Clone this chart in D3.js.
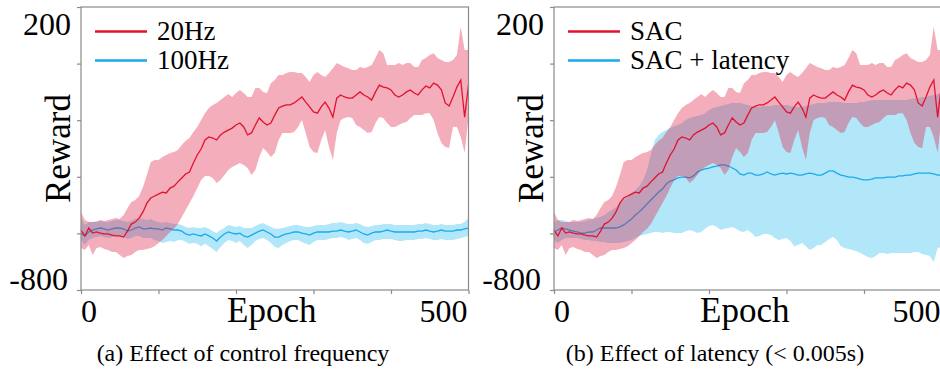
<!DOCTYPE html>
<html>
<head>
<meta charset="utf-8">
<script src="https://cdn.jsdelivr.net/npm/d3@7"></script>
<style>
  body { margin: 0; background: #fff; }
  svg text { font-family: "Liberation Serif", "Times New Roman", serif; fill: #000; }
</style>
</head>
<body>
<svg id="chart" width="940" height="378"></svg>
<script>
// epochs sampled every 5
var epochs = d3.range(0, 501, 5);

// (a) 20Hz  (same run is the SAC curve in (b))
var hz20Mean = [-588,-609,-581,-599,-595,-599,-602,-602,-606,-609,
  -609,-613,-592,-567,-560,-546,-524,-493,-475,-468,
  -461,-454,-457,-440,-433,-418,-404,-390,-383,-351,
  -323,-302,-270,-259,-263,-270,-252,-242,-235,-228,
  -217,-210,-224,-252,-245,-217,-192,-206,-217,-210,
  -182,-157,-150,-146,-146,-139,-129,-118,-136,-153,
  -171,-175,-153,-136,-157,-189,-122,-111,-118,-122,
  -122,-111,-100,-111,-118,-129,-100,-76,-83,-86,
  -93,-111,-118,-111,-100,-93,-104,-111,-93,-79,
  -86,-69,-76,-93,-139,-150,-118,-83,-58,-189,-76];
var hz20Upper = [-524,-553,-560,-560,-560,-553,-556,-553,-549,-546,
  -549,-535,-510,-489,-482,-468,-436,-394,-348,-341,
  -341,-330,-323,-316,-312,-305,-288,-273,-263,-242,
  -224,-199,-175,-157,-146,-139,-129,-118,-107,-118,
  -104,-93,-104,-118,-118,-86,-86,-100,-104,-69,
  -58,-40,-40,-33,-30,-30,-33,-33,-47,-65,
  -40,-30,-40,-47,-33,-16,2,-5,-12,-16,
  -23,-23,-12,-16,-12,-5,20,48,37,-5,
  -5,-5,2,-5,2,2,-12,-12,13,20,
  30,37,20,13,6,6,13,30,130,48,48];
var hz20Lower = [-652,-659,-641,-676,-652,-648,-655,-659,-666,-666,
  -676,-687,-680,-676,-666,-659,-659,-655,-652,-645,
  -634,-623,-609,-595,-584,-567,-542,-517,-493,-468,
  -440,-411,-397,-397,-404,-422,-411,-394,-376,-365,
  -358,-351,-358,-369,-394,-376,-330,-298,-312,-330,
  -316,-270,-245,-245,-245,-242,-224,-199,-245,-295,
  -312,-316,-270,-235,-295,-341,-245,-199,-192,-189,
  -192,-217,-224,-235,-245,-242,-210,-189,-192,-210,
  -224,-224,-217,-210,-206,-192,-182,-182,-182,-175,
  -175,-199,-245,-281,-295,-298,-224,-224,-259,-316,-189];

// (a) 100Hz
var hz100Mean = [-599,-609,-595,-588,-584,-581,-584,-588,-584,-581,
  -581,-584,-592,-588,-581,-577,-584,-584,-581,-584,
  -584,-588,-581,-584,-588,-588,-592,-602,-606,-602,
  -606,-609,-602,-609,-616,-627,-613,-602,-595,-599,
  -602,-599,-609,-613,-606,-599,-592,-588,-595,-602,
  -613,-613,-606,-602,-599,-595,-595,-599,-602,-606,
  -599,-595,-595,-595,-595,-592,-592,-588,-592,-595,
  -592,-588,-595,-602,-606,-599,-595,-595,-592,-588,
  -592,-595,-595,-595,-595,-595,-595,-592,-592,-588,
  -592,-595,-592,-588,-592,-592,-592,-588,-588,-584,-581];
var hz100Upper = [-546,-570,-560,-560,-556,-556,-560,-560,-556,-553,
  -553,-556,-560,-556,-549,-546,-549,-553,-549,-556,
  -560,-563,-560,-563,-567,-567,-570,-577,-581,-577,
  -581,-581,-577,-584,-592,-599,-588,-581,-570,-574,
  -577,-574,-581,-581,-581,-574,-567,-563,-570,-577,
  -584,-584,-581,-577,-574,-570,-570,-574,-577,-577,
  -574,-570,-570,-570,-567,-563,-563,-560,-563,-567,
  -567,-563,-567,-574,-577,-574,-570,-570,-567,-567,
  -567,-570,-570,-570,-570,-570,-570,-567,-567,-563,
  -567,-570,-570,-567,-570,-570,-570,-567,-567,-560,-546];
var hz100Lower = [-623,-641,-623,-616,-613,-609,-613,-616,-613,-609,
  -609,-613,-620,-616,-609,-609,-616,-616,-616,-623,
  -627,-634,-630,-627,-630,-623,-623,-630,-637,-634,
  -637,-645,-637,-645,-655,-666,-648,-634,-623,-627,
  -634,-627,-641,-652,-641,-627,-620,-616,-623,-634,
  -648,-652,-641,-634,-627,-623,-623,-630,-637,-641,
  -630,-623,-623,-623,-620,-616,-616,-613,-616,-623,
  -620,-616,-623,-634,-637,-630,-623,-623,-620,-620,
  -620,-623,-627,-627,-623,-623,-623,-620,-620,-616,
  -620,-623,-623,-620,-623,-623,-623,-620,-616,-613,-609];

// (b) SAC + latency
var latMean = [-595,-588,-581,-584,-588,-592,-595,-599,-599,-595,
  -595,-588,-581,-581,-581,-581,-581,-577,-570,-560,
  -549,-535,-524,-510,-496,-482,-468,-454,-443,-425,
  -415,-411,-404,-401,-401,-404,-397,-383,-376,-372,
  -369,-365,-362,-358,-358,-362,-369,-376,-390,-394,
  -387,-387,-394,-394,-390,-383,-390,-394,-390,-387,
  -390,-387,-390,-394,-394,-390,-387,-390,-394,-394,
  -387,-379,-379,-387,-394,-397,-401,-401,-404,-408,
  -411,-411,-408,-404,-404,-404,-401,-401,-401,-397,
  -397,-394,-394,-390,-387,-387,-387,-387,-390,-394,-394];
var latUpper = [-560,-553,-553,-556,-560,-560,-560,-560,-556,-553,
  -549,-546,-542,-535,-524,-517,-507,-496,-482,-471,
  -457,-447,-433,-411,-376,-323,-270,-252,-242,-235,
  -228,-221,-217,-210,-199,-192,-189,-185,-182,-175,
  -164,-157,-153,-150,-146,-143,-139,-139,-139,-143,
  -146,-150,-153,-153,-150,-150,-150,-146,-146,-146,
  -146,-150,-153,-153,-153,-150,-146,-143,-139,-139,
  -139,-136,-136,-136,-136,-139,-139,-139,-139,-136,
  -136,-132,-129,-129,-129,-129,-129,-129,-129,-129,
  -129,-129,-125,-122,-122,-118,-118,-114,-111,-107,-104];
var latLower = [-623,-634,-623,-616,-616,-616,-616,-620,-623,-623,
  -627,-627,-630,-630,-634,-634,-634,-634,-630,-627,
  -623,-616,-609,-606,-602,-599,-595,-595,-599,-595,
  -595,-599,-599,-599,-592,-588,-592,-599,-595,-584,
  -574,-570,-577,-588,-584,-581,-577,-584,-592,-595,
  -588,-599,-613,-609,-602,-602,-606,-616,-623,-620,
  -616,-627,-645,-641,-634,-645,-659,-652,-641,-641,
  -630,-620,-613,-623,-645,-652,-655,-659,-662,-669,
  -676,-683,-687,-680,-669,-669,-673,-669,-669,-669,
  -669,-669,-669,-666,-666,-673,-676,-680,-701,-652,-648];

var sacMean = hz20Mean, sacUpper = hz20Upper, sacLower = hz20Lower;

var yTicks = [-800, -600, -400, -200, 0, 200];
var xTicks = [0, 100, 200, 300, 400, 500];

var red = "#e3122d", redFill = "#dc143c",
    blue = "#19aaee", blueFill = "#00b0f0";

var panels = [
  { left: 81, caption: "(a) Effect of control frequency", capX: 243,
    series: [
      { name: "100Hz", mean: hz100Mean, lo: hz100Lower, hi: hz100Upper, line: blue, fill: blueFill, op: 0.3 },
      { name: "20Hz", mean: hz20Mean, lo: hz20Lower, hi: hz20Upper, line: red, fill: redFill, op: 0.35 }
    ],
    legend: ["20Hz", "100Hz"] },
  { left: 554, caption: "(b) Effect of latency (< 0.005s)", capX: 715,
    series: [
      { name: "SAC + latency", mean: latMean, lo: latLower, hi: latUpper, line: blue, fill: blueFill, op: 0.3 },
      { name: "SAC", mean: sacMean, lo: sacLower, hi: sacUpper, line: red, fill: redFill, op: 0.35 }
    ],
    legend: ["SAC", "SAC + latency"] }
];

var plotTop = 7, plotBottom = 290, plotW = 387.5;
var svg = d3.select("#chart");

var y = d3.scaleLinear().domain([-800, 200]).range([plotBottom, plotTop]);

panels.forEach(function (p) {
  var x = d3.scaleLinear().domain([0, 500]).range([p.left, p.left + plotW]);
  var g = svg.append("g");

  // bands and mean lines, blue first then red on top
  p.series.forEach(function (s) {
    var pts = epochs.map(function (e, i) { return { e: e, m: s.mean[i], lo: s.lo[i], hi: s.hi[i] }; });
    g.append("path")
      .datum(pts)
      .attr("fill", s.fill)
      .attr("fill-opacity", s.op)
      .attr("d", d3.area().x(function (d) { return x(d.e); })
        .y0(function (d) { return y(d.lo); })
        .y1(function (d) { return y(d.hi); }));
    g.append("path")
      .datum(pts)
      .attr("fill", "none")
      .attr("stroke", s.line)
      .attr("stroke-width", 1.3)
      .attr("d", d3.line().x(function (d) { return x(d.e); }).y(function (d) { return y(d.m); }));
  });

  // frame
  g.append("rect")
    .attr("x", p.left).attr("y", plotTop)
    .attr("width", plotW).attr("height", plotBottom - plotTop)
    .attr("fill", "none").attr("stroke", "#8a8a8a").attr("stroke-width", 1.2);

  // ticks
  var ya = g.append("g").attr("transform", "translate(" + p.left + ",0)")
    .call(d3.axisLeft(y).tickValues(yTicks).tickSize(4).tickFormat(""));
  var xa = g.append("g").attr("transform", "translate(0," + plotBottom + ")")
    .call(d3.axisBottom(x).tickValues(xTicks).tickSize(4).tickFormat(""));
  [ya, xa].forEach(function (a) {
    a.select(".domain").remove();
    a.selectAll("line").attr("stroke", "#8a8a8a").attr("stroke-width", 1.2);
  });

  // tick labels
  g.append("text").attr("x", p.left - 10).attr("y", y(200) + 28)
    .attr("text-anchor", "end").attr("font-size", 32).text("200");
  g.append("text").attr("x", p.left - 13).attr("y", y(-800))
    .attr("text-anchor", "end").attr("font-size", 32).text("-800");
  g.append("text").attr("x", x(0)).attr("y", 322)
    .attr("font-size", 32).text("0");
  g.append("text").attr("x", x(500) - 1).attr("y", 322)
    .attr("text-anchor", "end").attr("font-size", 32).text("500");
  g.append("text").attr("x", x(250) - 3).attr("y", 322)
    .attr("text-anchor", "middle").attr("font-size", 35).text("Epoch");
  g.append("text")
    .attr("transform", "translate(" + (p.left - 11) + "," + ((plotTop + plotBottom) / 2) + ") rotate(-90)")
    .attr("text-anchor", "middle").attr("font-size", 35).text("Reward");

  // legend
  p.legend.forEach(function (name, i) {
    var s = p.series.find(function (d) { return d.name === name; });
    var ly = 31.5 + i * 29;
    g.append("line")
      .attr("x1", p.left + 14).attr("x2", p.left + 66)
      .attr("y1", ly).attr("y2", ly)
      .attr("stroke", s.line).attr("stroke-width", 2.5);
    g.append("text").attr("x", p.left + 76).attr("y", ly + 8)
      .attr("font-size", 27).text(name);
  });

  // caption
  svg.append("text").attr("x", p.capX).attr("y", 361)
    .attr("text-anchor", "middle").attr("font-size", 24).text(p.caption);
});
</script>
</body>
</html>
